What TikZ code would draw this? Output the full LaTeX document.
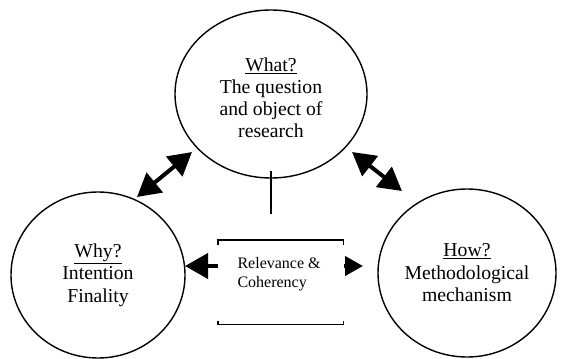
\documentclass[tikz,border=0pt]{standalone}
\usepackage{fontspec}
\setmainfont{Liberation Serif}
\usetikzlibrary{arrows.meta,shapes.geometric}

\begin{document}
\begin{tikzpicture} [
        x=1pt, y=-1pt,
        topicnode/.style={
            ellipse,
            draw,
            line width=1.4pt,
            align=center,
            inner sep=0pt,
            font=\fontsize{19.7}{22.5}\selectfont
        },
        topictext/.style={
            align=center,
            inner sep=0pt,
            font=\fontsize{19.7}{22}\selectfont
        },
        bignode/.style={
            line width=4pt,
            {Triangle[length=23pt,width=25pt]}-{Triangle[length=23pt,width=25pt]}
        },
        sidearrow/.style={
            line width=4pt,
            -{Triangle[length=23pt,width=25pt]}
        }
    ]

        \useasboundingbox (0,0) rectangle (561,358);

        \node[topicnode, minimum width=192pt, minimum height=168pt] (what) at (271,94) {};
        \node[topictext] (whattext) at ([yshift=-4pt]what.center)
            {\underline{What?}\\The question\\and object of\\research};
        \node[topicnode, minimum width=174pt, minimum height=166pt] (why)  at (98,275)
            {\underline{Why?}\\Intention\\Finality};
        \node[topicnode, minimum width=178pt, minimum height=168pt] (how)  at (467,273)
            {\underline{How?}\\Methodological\\mechanism};

        % bracket round the middle text
        \node[minimum width=125pt, minimum height=84pt, inner sep=0pt] (box) at (280.5,282) {};
        \node[align=left, anchor=west, font=\fontsize{16}{19}\selectfont] (rel) at (234,274)
            {Relevance \&\\Coherency};

        \draw[line width=1.4pt] ([yshift=-5pt]box.north west) -- (box.north west) -- (box.north east) -- ([yshift=-5pt]box.north east);
        \draw[line width=1.4pt] ([yshift=3pt]box.south west) -- (box.south west) -- (box.south east) -- ([yshift=3pt]box.south east);

        \coordinate (stem) at (271,214);
        \draw[line width=1.4pt] ([yshift=8pt]what.south) -- (stem);

        % arrows
        \coordinate (wa) at (137,197);
        \coordinate (wb) at (192,152);
        \coordinate (ha) at (352,152);
        \coordinate (hb) at (402,191);
        \draw[bignode] (wa) -- (wb);
        \draw[bignode] (ha) -- (hb);

        \coordinate (la) at (218,266);
        \coordinate (lb) at (185,266);
        \coordinate (ra) at (344,266);
        \coordinate (rb) at (363,266);
        \draw[sidearrow] (la) -- (lb);
        \draw[sidearrow, -{Triangle[length=18pt,width=19pt]}] (ra) -- (rb);

    \end{tikzpicture}
\end{document}
